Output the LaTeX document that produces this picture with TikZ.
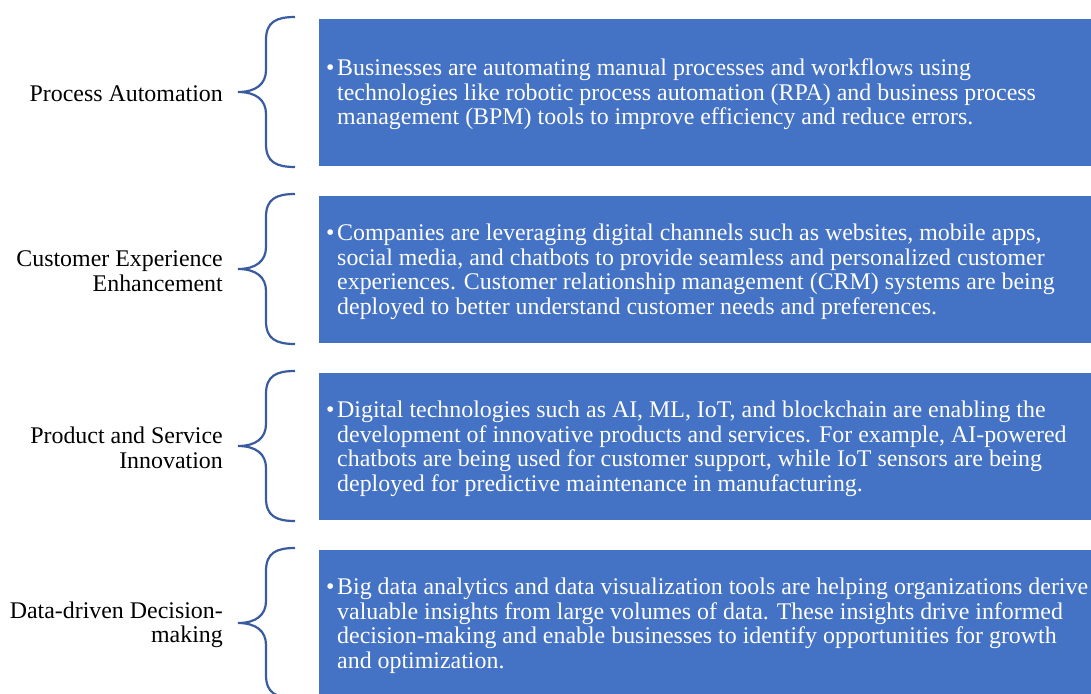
\documentclass[tikz,border=0pt]{standalone}
\usepackage{fontspec}
\setmainfont{Liberation Serif}
\definecolor{boxblue}{HTML}{4472C4}
\definecolor{bracecol}{HTML}{3A5B9E}
\tikzset{
  box/.style={fill=boxblue, draw=none, inner sep=0pt, anchor=north west, minimum width=772pt, minimum height=147pt},
  txt/.style={text=white, inner sep=0pt, anchor=west, font=\fontsize{23.9}{24.5}\selectfont},
  lbl/.style={text=black, inner sep=0pt, anchor=east, align=right, font=\fontsize{23.9}{24.5}\selectfont},
  brc/.pic={\draw[bracecol, line width=2.2pt]
    (57,-75) .. controls (38,-75) and (28,-70) .. (28,-52) -- (28,-22)
    .. controls (28,-8) and (18,0) .. (0,0)
    .. controls (18,0) and (28,8) .. (28,22) -- (28,52)
    .. controls (28,70) and (38,75) .. (57,75);}
}
\newcommand{\bul}[1]{\begin{tabular}{@{}p{11pt}@{}l@{}}\textbullet & #1\end{tabular}}
\begin{document}
\begin{tikzpicture}[x=1pt, y=-1pt]
\useasboundingbox (0,0) rectangle (1091,693);
% boxes
\node[box] (b1) at (319,19) {};
\node[box] (b2) at (319,196) {};
\node[box] (b3) at (319,373) {};
\node[box] (b4) at (319,550) {};
% braces
\pic at (238,92) {brc};
\pic at (238,269) {brc};
\pic at (238,446) {brc};
\pic at (238,623) {brc};
% labels
\node[lbl] (l1) at (223,93.5) {Process Automation};
\node[lbl] (l2) at (223,271) {Customer Experience\\Enhancement};
\node[lbl] (l3) at (223,448) {Product and Service\\Innovation};
\node[lbl] (l4) at (223,625) {Data-driven Decision-\\making};
% texts
\node[txt] (t1) at (326,95.5) {\bul{Businesses are automating manual processes and workflows using\\
& technologies like robotic process automation (RPA) and business process\\
& management (BPM) tools to improve efficiency and reduce errors.}};
\node[txt] (t2) at (326,272.5) {\bul{Companies are leveraging digital channels such as websites, mobile apps,\\
& social media, and chatbots to provide seamless and personalized customer\\
& experiences. Customer relationship management (CRM) systems are being\\
& deployed to better understand customer needs and preferences.}};
\node[txt] (t3) at (326,449.5) {\bul{Digital technologies such as AI, ML, IoT, and blockchain are enabling the\\
& development of innovative products and services. For example, AI-powered\\
& chatbots are being used for customer support, while IoT sensors are being\\
& deployed for predictive maintenance in manufacturing.}};
\node[txt] (t4) at (326,626.5) {\bul{Big data analytics and data visualization tools are helping organizations derive\\
& valuable insights from large volumes of data. These insights drive informed\\
& decision-making and enable businesses to identify opportunities for growth\\
& and optimization.}};
\end{tikzpicture}
\end{document}
